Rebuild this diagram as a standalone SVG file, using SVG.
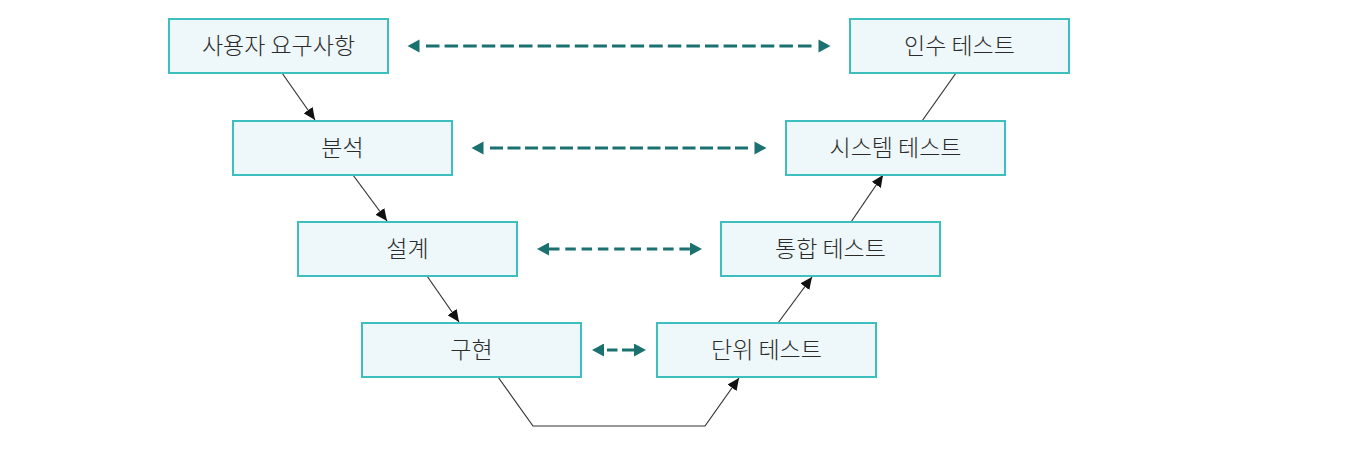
<svg xmlns="http://www.w3.org/2000/svg" width="1372" height="452" viewBox="0 0 1372 452">
<style>
.box{fill:#eef7f9;stroke:#3dbfbf;stroke-width:2}
.lbl{font-family:"Noto Sans CJK KR","Noto Sans",sans-serif;font-size:23px;font-weight:300;fill:#2b2b2b;text-anchor:middle}
.flow{fill:none;stroke:#333;stroke-width:1.2}
.dash{fill:none;stroke:#1b7070;stroke-width:3}
</style>
<defs>
<marker id="ah" markerUnits="userSpaceOnUse" markerWidth="12" markerHeight="11" refX="12" refY="5.5" orient="auto" viewBox="0 0 12 11"><path d="M0,0 L12,5.5 L0,11 z" fill="#111"/></marker>
<marker id="tg" markerUnits="userSpaceOnUse" markerWidth="20" markerHeight="13" refX="-6.5" refY="6.5" orient="auto-start-reverse" viewBox="-7 0 20 13" overflow="visible"><path d="M0,0 L12,6.5 L0,13 z" fill="#1b7070"/></marker>
<marker id="tg0" markerUnits="userSpaceOnUse" markerWidth="12" markerHeight="13" refX="0" refY="6.5" orient="auto-start-reverse" viewBox="0 0 12 13"><path d="M0,0 L12,6.5 L0,13 z" fill="#1b7070"/></marker>
</defs>
<rect width="1372" height="452" fill="#fff"/>
<g id="connectors">
<line class="flow" x1="282" y1="73" x2="315" y2="120" marker-end="url(#ah)"/>
<line class="flow" x1="353" y1="175" x2="387" y2="221" marker-end="url(#ah)"/>
<line class="flow" x1="427" y1="276" x2="459" y2="322" marker-end="url(#ah)"/>
<polyline class="flow" points="498,377 533,426 705,426 739,378" marker-end="url(#ah)"/>
<line class="flow" x1="778" y1="323" x2="812" y2="277" marker-end="url(#ah)"/>
<line class="flow" x1="851" y1="222" x2="883" y2="175" marker-end="url(#ah)"/>
<line class="flow" x1="922" y1="121" x2="956" y2="73"/>
<line class="dash" x1="426" y1="46" x2="812" y2="46" stroke-dasharray="13.5 5.1" marker-start="url(#tg)" marker-end="url(#tg)"/>
<line class="dash" x1="490" y1="148" x2="748" y2="148" stroke-dasharray="13 4.5" marker-start="url(#tg)" marker-end="url(#tg)"/>
<line class="dash" x1="549" y1="249" x2="690" y2="249" stroke-dasharray="10.5 5.8" marker-start="url(#tg0)" marker-end="url(#tg0)"/>
<line class="dash" x1="604" y1="350" x2="634" y2="350" stroke-dasharray="0 3 10.5 4.5 12 10" marker-start="url(#tg0)" marker-end="url(#tg0)"/>
</g>
<g id="n1"><rect class="box" x="169" y="19" width="219" height="54"/><text class="lbl" x="278.5" y="54">사용자 요구사항</text></g>
<g id="n2"><rect class="box" x="233" y="121" width="219" height="54"/><text class="lbl" x="342.5" y="156">분석</text></g>
<g id="n3"><rect class="box" x="298" y="222" width="219" height="54"/><text class="lbl" x="407.5" y="257">설계</text></g>
<g id="n4"><rect class="box" x="362" y="323" width="219" height="54"/><text class="lbl" x="471.5" y="358">구현</text></g>
<g id="n5"><rect class="box" x="657" y="323" width="219" height="54"/><text class="lbl" x="766.5" y="358">단위 테스트</text></g>
<g id="n6"><rect class="box" x="721" y="222" width="219" height="54"/><text class="lbl" x="830.5" y="257">통합 테스트</text></g>
<g id="n7"><rect class="box" x="786" y="121" width="219" height="54"/><text class="lbl" x="895.5" y="156">시스템 테스트</text></g>
<g id="n8"><rect class="box" x="850" y="19" width="219" height="54"/><text class="lbl" x="959.5" y="54">인수 테스트</text></g>
</svg>
